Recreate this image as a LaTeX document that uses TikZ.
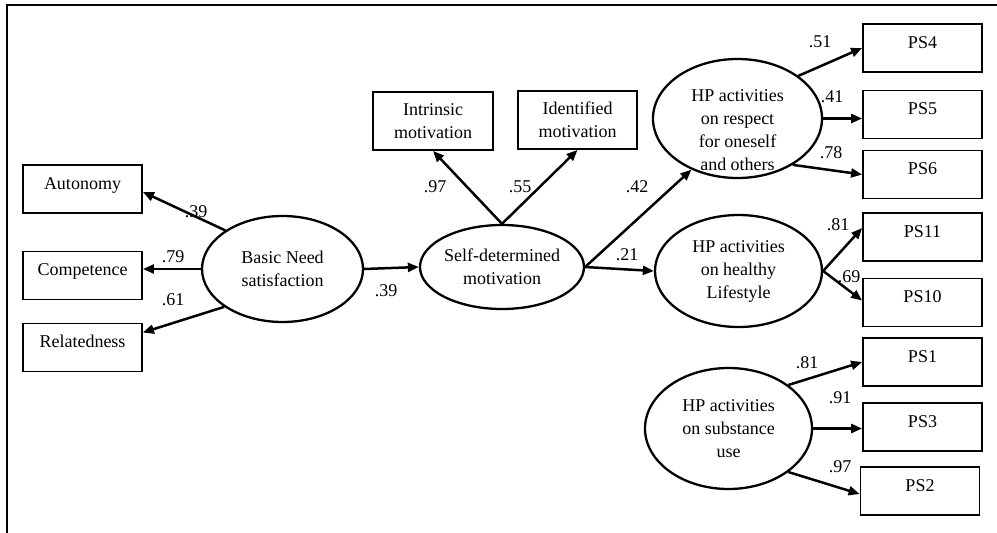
\documentclass[tikz,border=0pt]{standalone}
\usepackage{fontspec}
\setmainfont{Liberation Serif}
\usetikzlibrary{shapes.geometric,arrows.meta,calc}
\begin{document}
\begin{tikzpicture}[x=1pt,y=-1pt,
  every node/.style={font=\fontsize{18}{23}\selectfont},
  obs/.style={draw, line width=1.8pt, minimum width=119pt, minimum height=48pt, inner sep=0pt, align=center},
  obsone/.style={obs, text height=12pt, text depth=12pt},
  lat/.style={draw, ellipse, line width=2.3pt, inner sep=0pt, align=center},
  arr/.style={line width=2.5pt, -{Triangle[length=11pt,width=9pt]}},
  lbl/.style={inner sep=0pt},
  frame/.style={line width=2pt}
]
\useasboundingbox (0,0) rectangle (997,533);
\coordinate (fa) at (997,5);
\coordinate (fb) at (7,5);
\coordinate (fc) at (7,533);
\draw[frame] (fa) -- (fb) -- (fc);

% observed indicators
\node[obsone] (aut) at (82.5,189) {Autonomy};
\node[obsone] (com) at (82.5,275.5) {Competence};
\node[obsone] (rel) at (82.5,347.5) {Relatedness};
\node[obs, minimum width=120pt, minimum height=58pt] (int) at (433,121) {Intrinsic\\motivation};
\node[obs, minimum width=119pt, minimum height=58pt] (idm) at (577.5,120) {Identified\\motivation};
\node[obsone] (ps4) at (922.5,48) {PS4};
\node[obsone] (ps5) at (922.5,114.5) {PS5};
\node[obsone] (ps6) at (922.5,174.5) {PS6};
\node[obsone] (ps11) at (922.5,237) {PS11};
\node[obsone] (ps10) at (922.5,302.5) {PS10};
\node[obsone] (ps1) at (922.5,362) {PS1};
\node[obsone] (ps3) at (922.5,427) {PS3};
\node[obsone] (ps2) at (920,491) {PS2};

% latent variables
\node[lat, minimum width=161pt, minimum height=106pt] (bns) at (282.5,269) {Basic Need\\satisfaction};
\node[lat, minimum width=160pt, minimum height=84pt] (sdm) at (502,267) {Self-determined\\motivation};
\node[lat, minimum width=169pt, minimum height=119pt] (hpr) at (737.5,118.5) {};
\node[align=center, inner sep=0pt] (hprt) at (737.5,130) {HP activities\\on respect\\for oneself\\and others};
\node[lat, minimum width=167pt, minimum height=112pt] (hph) at (738.5,271) {HP activities\\on healthy\\Lifestyle};
\node[lat, minimum width=167pt, minimum height=121pt] (hps) at (728.5,428.5) {HP activities\\on substance\\use};

% connectors
\draw[arr] (bns.146.5) -- ([yshift=-3pt]aut.east);
\draw[arr] (bns.west) -- (bns.west -| com.east);
\draw[arr] (bns.213) -- ([yshift=15pt]rel.east);
\draw[arr] (bns.east) -- (sdm.west);
\draw[arr] (sdm.north) -- (int.south);
\draw[arr] (sdm.north) -- (idm.south);
\draw[arr] (sdm.east) -- (hpr.228);
\draw[arr] (sdm.east) -- (hph.west);
\draw[arr] (hpr.35) -- (ps4.west);
\draw[arr] (hpr.east) -- (hpr.east -| ps5.west);
\draw[arr] (hpr.320) -- (ps6.west);
\draw[arr] (hph.east) -- ([yshift=9pt]ps11.west);
\draw[arr] (hph.east) -- ([yshift=2pt]ps10.west);
\draw[arr] (hps.36) -- (ps1.west);
\draw[arr] (hps.east) -- (hps.east -| ps3.west);
\draw[arr] (hps.324) -- ([yshift=-3pt]ps2.west);

% coefficients
\node[lbl] (l1) at (196,212) {.39};
\node[lbl] (l2) at (173,257) {.79};
\node[lbl] (l3) at (173,300) {.61};
\node[lbl] (l4) at (386,291) {.39};
\node[lbl] (l5) at (435,187) {.97};
\node[lbl] (l6) at (520,187) {.55};
\node[lbl] (l7) at (637,187) {.42};
\node[lbl] (l8) at (627,255) {.21};
\node[lbl] (l9) at (820,42) {.51};
\node[lbl] (l10) at (832,97) {.41};
\node[lbl] (l11) at (831,153) {.78};
\node[lbl] (l12) at (838,225) {.81};
\node[lbl] (l13) at (849,277) {.69};
\node[lbl] (l14) at (807,363) {.81};
\node[lbl] (l15) at (840,398) {.91};
\node[lbl] (l16) at (840,467) {.97};
\end{tikzpicture}
\end{document}
